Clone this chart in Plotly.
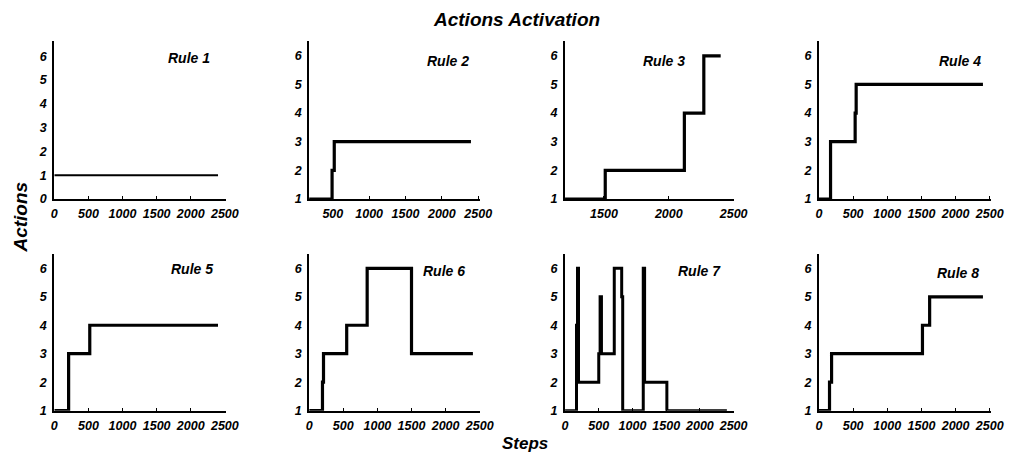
import plotly.graph_objects as go

# The page keeps an 8px body margin, so the figure is sized 1005x450 and sits at (8, 8).
OFF = 8
W, H = 1021 - 2 * OFF, 466 - 2 * OFF


def px(x):
    return (x - OFF) / W


def py(y):
    return 1 - (y - OFF) / H


# ---- data (step points: value holds until next step) ----
rule1_x = [0, 2400]
rule1_y = [1, 1]
rule2_x = [0, 490, 520, 2400]
rule2_y = [1, 2, 3, 3]
rule3_x = [0, 1510, 2120, 2270, 2400]
rule3_y = [1, 2, 4, 6, 6]
rule4_x = [0, 170, 530, 545, 2400]
rule4_y = [1, 3, 4, 5, 5]
rule5_x = [0, 210, 520, 2400]
rule5_y = [1, 3, 4, 4]
rule6_x = [0, 195, 210, 550, 850, 1500, 2400]
rule6_y = [1, 2, 3, 4, 6, 3, 3]
rule7_x = [0, 170, 185, 200, 500, 520, 540, 730, 840, 855, 1160, 1180, 1510, 2400]
rule7_y = [1, 4, 6, 2, 3, 5, 3, 6, 5, 1, 6, 2, 1, 1]
rule8_x = [0, 155, 185, 1515, 1620, 2400]
rule8_y = [1, 2, 3, 4, 5, 5]

rule_names = ["Rule 1", "Rule 2", "Rule 3", "Rule 4", "Rule 5", "Rule 6", "Rule 7", "Rule 8"]
xs = [rule1_x, rule2_x, rule3_x, rule4_x, rule5_x, rule6_x, rule7_x, rule8_x]
ys = [rule1_y, rule2_y, rule3_y, rule4_y, rule5_y, rule6_y, rule7_y, rule8_y]

x_ticks = [[0, 500, 1000, 1500, 2000, 2500], [500, 1000, 1500, 2000, 2500],
           [1500, 2000, 2500], [0, 500, 1000, 1500, 2000, 2500],
           [0, 500, 1000, 1500, 2000, 2500], [0, 500, 1000, 1500, 2000, 2500],
           [0, 500, 1000, 1500, 2000, 2500], [0, 500, 1000, 1500, 2000, 2500]]
y_ticks = [[0, 1, 2, 3, 4, 5, 6]] + [[1, 2, 3, 4, 5, 6]] * 7

# ---- layout geometry (reference pixels) ----
col_px = [(52, 226), (311, 485), (571, 743), (829, 1004)]
row_px = [(42, 202), (258, 417)]
x_ranges = [[0, 2510], [175, 2530], [1200, 2505], [0, 2520],
            [0, 2510], [0, 2510], [0, 2510], [0, 2520]]
y_ranges = [[0, 6.62]] + [[1, 6.5]] * 7
widths = [2, 3.2, 3.2, 3.2, 3.2, 3.2, 3, 3.2]
title_pos = [(189, 59), (452, 62), (672, 62), (972, 62),
             (192, 273), (448, 275), (708, 275), (970, 277)]

TICKFONT = dict(family="Liberation Sans Narrow, Arial Narrow, Liberation Sans", size=12.5,
                color="black", weight="bold", style="italic")
LABFONT = dict(family="Liberation Sans, Arial", color="black", weight="bold", style="italic")

fig = go.Figure()
layout = dict(width=W, height=H, margin=dict(l=0, r=0, t=0, b=0),
              paper_bgcolor="white", plot_bgcolor="white", showlegend=False)
annotations = []
for i in range(8):
    r, c = divmod(i, 4)
    n = "" if i == 0 else str(i + 1)
    x0, x1 = col_px[c]
    yt, yb = row_px[r]
    layout["xaxis" + n] = dict(
        domain=[px(x0), px(x1)], anchor="y" + n, range=x_ranges[i],
        tickvals=x_ticks[i], ticks="inside", ticklen=3, tickwidth=1, tickcolor="black",
        showline=True, linecolor="black", linewidth=2, showgrid=False, zeroline=False,
        tickfont=TICKFONT, ticklabelstandoff=2)
    layout["yaxis" + n] = dict(
        domain=[py(yb), py(yt)], anchor="x" + n, range=y_ranges[i],
        tickvals=y_ticks[i], ticks="", showline=True, linecolor="black", linewidth=2,
        showgrid=False, zeroline=False, tickfont=TICKFONT, ticklabelstandoff=3)
    fig.add_trace(go.Scatter(x=xs[i], y=ys[i], mode="lines", line_shape="hv",
                             line=dict(color="black", width=widths[i]),
                             xaxis="x" + n, yaxis="y" + n, name=rule_names[i]))
    tx, ty = title_pos[i]
    annotations.append(dict(text=rule_names[i], x=px(tx), y=py(ty), xref="paper", yref="paper",
                            showarrow=False, xanchor="center", yanchor="middle",
                            font=dict(LABFONT, size=14)))

annotations.append(dict(text="Actions Activation", x=px(522), y=1, xref="paper", yref="paper",
                        showarrow=False, xanchor="center", yanchor="top", borderpad=0,
                        font=dict(LABFONT, size=19)))
annotations.append(dict(text="Actions", x=px(18), y=py(220), xref="paper", yref="paper",
                        showarrow=False, xanchor="center", yanchor="middle", textangle=-90,
                        font=dict(LABFONT, size=19)))
annotations.append(dict(text="Steps", x=px(530), y=py(450), xref="paper", yref="paper",
                        showarrow=False, xanchor="center", yanchor="middle",
                        font=dict(LABFONT, size=17)))
layout["annotations"] = annotations
fig.update_layout(**layout)
fig.write_html("out.html", config={"displayModeBar": False})
